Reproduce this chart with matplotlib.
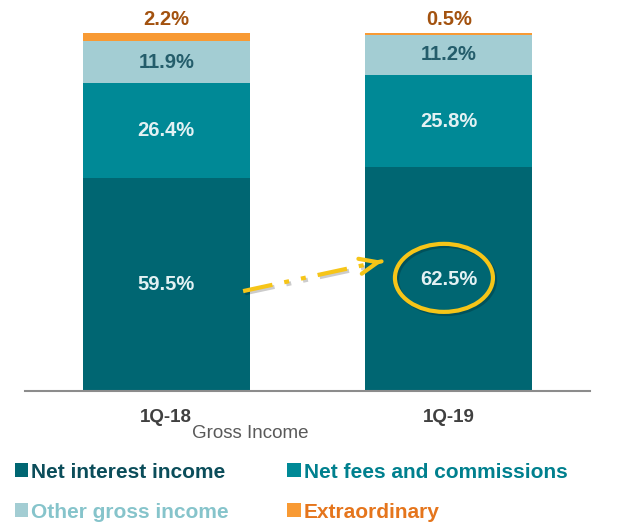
import matplotlib.pyplot as plt
import matplotlib.patheffects as pe
from matplotlib.patches import Ellipse

plt.rcParams['font.family'] = ['Liberation Sans', 'DejaVu Sans']

quarters = ['1Q-18', '1Q-19']
net_interest = [59.5, 62.5]
net_fees = [26.4, 25.8]
other_income = [11.9, 11.2]
extraordinary = [2.2, 0.5]

series = [
    ('Net interest income', net_interest, '#006672', '#e3f1f3', '#0b4d5a'),
    ('Net fees and commissions', net_fees, '#008996', '#e3f1f3', '#00808e'),
    ('Other gross income', other_income, '#a3cdd3', '#245d6b', '#86c4cb'),
    ('Extraordinary', extraordinary, '#f89a34', '#a3520f', '#e5751c'),
]

fig = plt.figure(figsize=(6.35, 5.26), dpi=100)
ax = fig.add_axes([25 / 635, 1 - 391 / 526, 565 / 635, 358 / 526])

x = list(range(len(quarters)))
bottom = [0.0] * len(quarters)
bars = []
for name, vals, col, txtcol, legcol in series:
    b = ax.bar(x, vals, width=0.59, bottom=bottom, color=col, label=name,
               edgecolor='none')
    bars.append(b)
    for i, v in enumerate(vals):
        if name == 'Extraordinary':
            ax.annotate(f'{v:.1f}%', (x[i], bottom[i] + v), xytext=(0, 3),
                        textcoords='offset points', ha='center', va='bottom',
                        fontsize=14.5, fontweight='bold', color=txtcol)
        else:
            ax.text(x[i], bottom[i] + v / 2, f'{v:.1f}%', ha='center',
                    va='center', fontsize=14.5, fontweight='bold', color=txtcol)
    bottom = [bt + v for bt, v in zip(bottom, vals)]

ax.set_xlim(-0.5, 1.5)
ax.set_ylim(0, 100)
for s in ['top', 'right', 'left']:
    ax.spines[s].set_visible(False)
ax.spines['bottom'].set_color('#8c8c8c')
ax.spines['bottom'].set_linewidth(1.5)
ax.set_yticks([])
ax.set_xticks(x)
ax.set_xticklabels(quarters, fontsize=13.5, fontweight='bold', color='#404040')
ax.tick_params(axis='x', length=0, pad=13)
ax.text(0.398, -0.118, 'Gross Income', transform=ax.transAxes, ha='center',
        va='center', fontsize=13.5, color='#595959')

# growth highlight on net interest income
yellow = '#f6c518'
shadow = [pe.SimpleLineShadow(offset=(1.5, -1.5), alpha=0.2), pe.Normal()]
ax.plot([0.272, 0.707], [27.9, 35.3], color=yellow, lw=3,
        linestyle=(0, (7.2, 2.9, 1.2, 2.9, 1.2, 2.9)), solid_capstyle='butt',
        path_effects=shadow)
ax.annotate('', xy=(0.767, 36.3), xytext=(0.762, 36.21),
            arrowprops=dict(arrowstyle='->,head_length=1.3,head_width=0.55',
                            color=yellow, lw=3, shrinkA=0, shrinkB=0))
ell = Ellipse((0.983, 31.6), 0.347, 19.0, fill=False, edgecolor=yellow,
              lw=3, path_effects=shadow)
ax.add_patch(ell)

order = [0, 2, 1, 3]
leg = fig.legend([bars[i] for i in order], [series[i][0] for i in order],
                 ncol=2, loc='upper left', bbox_to_anchor=(-4 / 635, 1 - 444 / 526),
                 frameon=False, handlelength=0.65, handleheight=0.65,
                 handletextpad=0.15, columnspacing=2.8, labelspacing=1.0,
                 prop={'size': 15, 'weight': 'bold'})
for t, i in zip(leg.get_texts(), order):
    t.set_color(series[i][4])

fig.savefig('out.png', dpi=100)
